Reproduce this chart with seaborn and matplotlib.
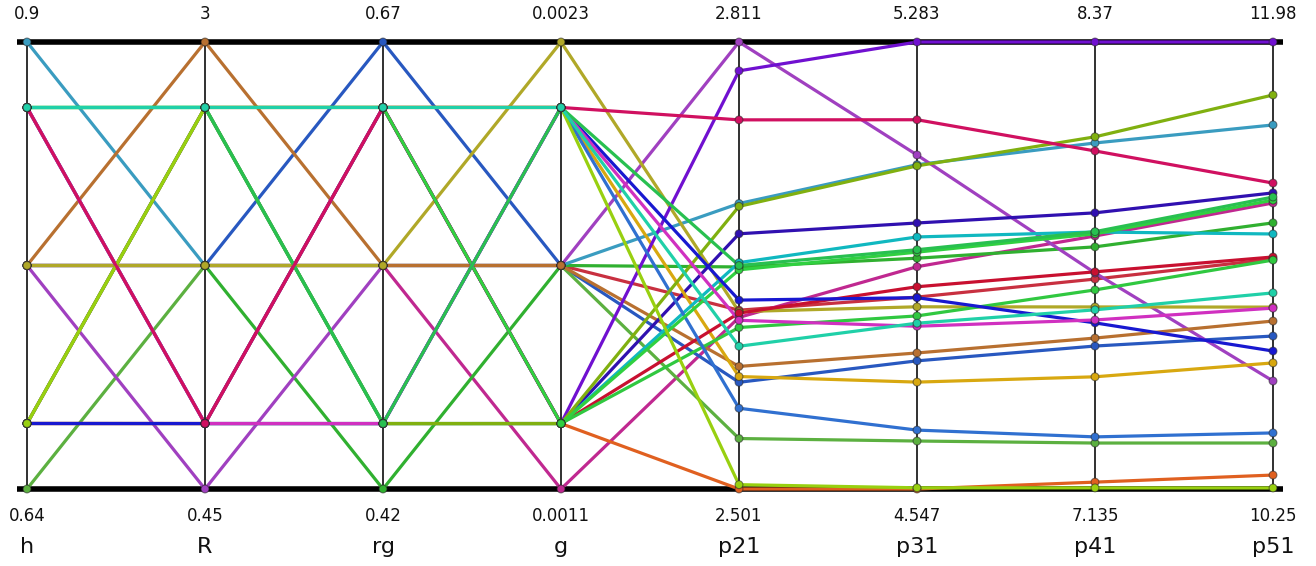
import numpy as np
import pandas as pd
import matplotlib
matplotlib.use("Agg")
import matplotlib.pyplot as plt
import seaborn as sns

# ---------------- data ----------------
axis_names = ["h", "R", "rg", "g", "p21", "p31", "p41", "p51"]
axis_min = [0.64, 0.45, 0.42, 0.0011, 2.501, 4.547, 7.135, 10.25]
axis_max = [0.9, 3.0, 0.67, 0.0023, 2.811, 5.283, 8.37, 11.98]
min_labels = ["0.64", "0.45", "0.42", "0.0011", "2.501", "4.547", "7.135", "10.25"]
max_labels = ["0.9", "3", "0.67", "0.0023", "2.811", "5.283", "8.37", "11.98"]

run_ids = list(range(1, 26))
h = [0.77, 0.77, 0.77, 0.77, 0.90, 0.64, 0.77, 0.77, 0.77,
     0.6781, 0.6781, 0.6781, 0.8619, 0.8619, 0.6781, 0.8619, 0.6781, 0.6781,
     0.8619, 0.6781, 0.8619, 0.6781, 0.8619, 0.8619, 0.8619]
R = [1.725, 1.725, 1.725, 1.725, 1.725, 1.725, 0.45, 3.0, 1.725,
     0.8234, 0.8234, 0.8234, 0.8234, 0.8234, 2.6266, 2.6266, 2.6266, 2.6266,
     2.6266, 0.8234, 0.8234, 2.6266, 2.6266, 0.8234, 2.6266]
rg = [0.545, 0.545, 0.42, 0.67, 0.545, 0.545, 0.545, 0.545, 0.545,
      0.4566, 0.6334, 0.6334, 0.6334, 0.4566, 0.6334, 0.4566, 0.4566, 0.4566,
      0.6334, 0.4566, 0.4566, 0.6334, 0.4566, 0.6334, 0.6334]
g = [0.0017, 0.0011, 0.0017, 0.0017, 0.0017, 0.0017, 0.0017, 0.0017, 0.0023,
     0.0012757, 0.0012757, 0.0021243, 0.0012757, 0.0012757, 0.0012757, 0.0012757,
     0.0021243, 0.0012757, 0.0012757, 0.0021243, 0.0021243, 0.0021243, 0.0021243,
     0.0021243, 0.0021243]
p21 = [2.625, 2.620, 2.655, 2.575, 2.699, 2.536, 2.811, 2.586, 2.624,
       2.501, 2.678, 2.579, 2.791, 2.658, 2.623, 2.613, 2.557, 2.697,
       2.653, 2.632, 2.618, 2.504, 2.656, 2.757, 2.600]
p31 = [4.863, 4.913, 4.927, 4.758, 5.081, 4.626, 5.097, 4.771, 4.847,
       4.547, 4.985, 4.723, 5.283, 4.962, 4.880, 4.832, 4.644, 5.079,
       4.937, 4.862, 4.815, 4.549, 4.941, 5.155, 4.820]
p41 = [7.715, 7.834, 7.804, 7.530, 8.091, 7.262, 7.732, 7.552, 7.638,
       7.154, 7.898, 7.445, 8.370, 7.845, 7.735, 7.685, 7.279, 8.108,
       7.840, 7.594, 7.602, 7.138, 7.846, 8.069, 7.630]
p51 = [11.140, 11.357, 11.280, 10.842, 11.659, 10.428, 10.668, 10.900, 10.954,
       10.304, 11.396, 10.738, 11.980, 11.237, 11.148, 11.136, 10.467, 11.775,
       11.368, 10.784, 10.950, 10.254, 11.380, 11.434, 11.009]
run_colors = ["#c83040", "#c02890", "#30b030", "#2858c0", "#3a9cc0",
              "#5cb040", "#a040c0", "#b87030", "#b0a828",
              "#e06020", "#3010b0", "#d8a810", "#7010d0", "#10b8c0", "#c81030",
              "#30c840", "#3070d0", "#80b010", "#30d040", "#1818d0", "#d030c0",
              "#98d010", "#28c050", "#d01060", "#20d0a8"]

# ---------------- long format ----------------
cols = [h, R, rg, g, p21, p31, p41, p51]
records = []
for k, rid in enumerate(run_ids):
    for i, col in enumerate(cols):
        v = col[k]
        norm = (v - axis_min[i]) / (axis_max[i] - axis_min[i])
        records.append({"run": rid, "axis": i, "norm": norm})
df = pd.DataFrame(records)
palette = {rid: c for rid, c in zip(run_ids, run_colors)}

# ---------------- figure ----------------
W, H = 1316, 566
fig = plt.figure(figsize=(W / 100, H / 100), dpi=100)
fig.patch.set_facecolor("white")
x0, x1, ytop, ybot = 27, 1273, 42, 489
ax = fig.add_axes([x0 / W, (H - ybot) / H, (x1 - x0) / W, (ybot - ytop) / H])
ax.set_xlim(0, 7)
ax.set_ylim(0, 1)

# top & bottom thick bars
ext = 10 / 178
ax.hlines([0, 1], -ext, 7 + ext, color="black", lw=4.0, zorder=1, clip_on=False)

sns.lineplot(data=df, x="axis", y="norm", hue="run", hue_order=run_ids,
             palette=palette, estimator=None, sort=False, legend=False,
             linewidth=2.3, ax=ax, zorder=2)

# vertical axis lines
ax.vlines(range(8), 0, 1, color="#202020", lw=1.3, zorder=2.6, clip_on=False)

sns.scatterplot(data=df, x="axis", y="norm", hue="run", hue_order=run_ids,
                palette=palette, s=32, edgecolor=(0.15, 0.15, 0.15, 0.55),
                linewidth=0.8, legend=False, ax=ax, zorder=3)

for art in list(ax.lines) + list(ax.collections):
    art.set_clip_on(False)

ax.axis("off")

def ypix(p):
    return (ybot - p) / (ybot - ytop)

for i in range(8):
    ax.text(i, ypix(14), max_labels[i], ha="center", va="center",
            fontsize=12, color="#111111")
    ax.text(i, ypix(516), min_labels[i], ha="center", va="center",
            fontsize=12, color="#111111")
    ax.text(i, ypix(547), axis_names[i], ha="center", va="center",
            fontsize=16, color="#111111")

fig.savefig("out.png", dpi=100, facecolor="white")
